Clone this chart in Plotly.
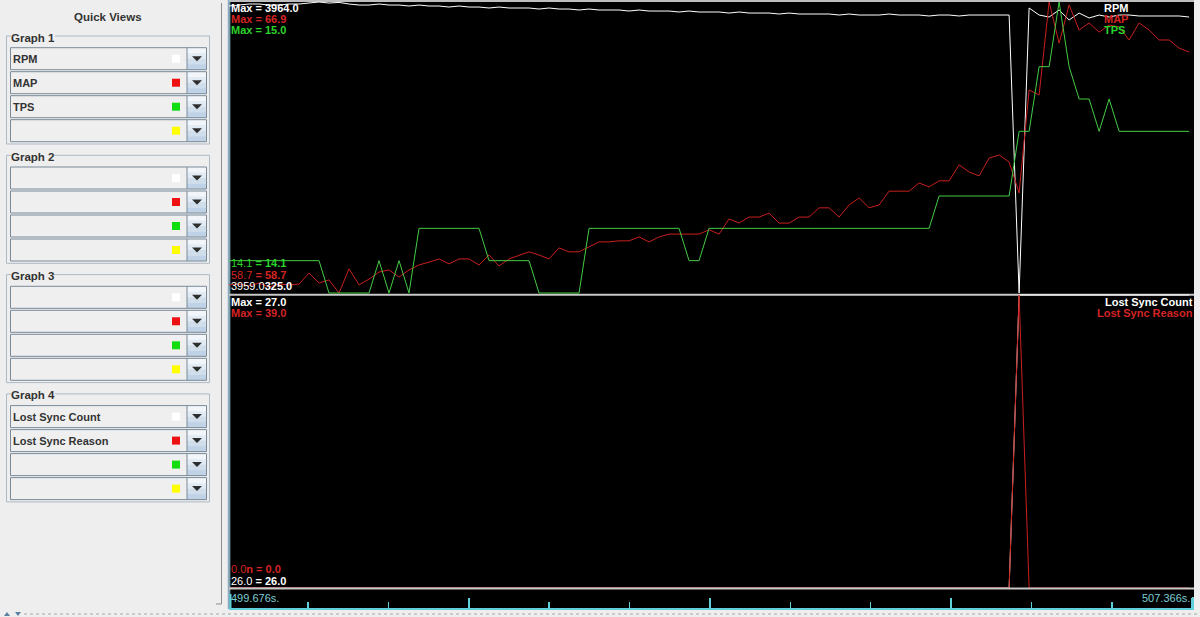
import plotly.graph_objects as go

W, H = 1200, 617
FONT = "Liberation Sans, Arial, sans-serif"

# ------------------------------------------------------------------ data
T_START = 499.676
T_END = 507.366
SAMPLE_PERIOD = 0.0797
CURSOR_INDEX = 11

rpm = [3914, 3926, 3939, 3939, 3926, 3926, 3939, 3939, 3951, 3964,
       3951, 3959, 3939, 3926, 3926, 3939, 3926, 3926, 3914, 3926,
       3914, 3914, 3901, 3914, 3901, 3901, 3889, 3901, 3889, 3889,
       3889, 3876, 3889, 3876, 3876, 3864, 3876, 3864, 3864, 3864,
       3851, 3864, 3851, 3851, 3851, 3839, 3851, 3839, 3839, 3839,
       3826, 3839, 3826, 3826, 3826, 3814, 3826, 3814, 3814, 3814,
       3814, 3801, 3814, 3801, 3801, 3801, 3814, 3801, 3801, 3801,
       3789, 3801, 3801, 3789, 3801, 3801, 3801, 3801, 3801, 325,
       3889, 3801, 3776, 3864, 3739, 3826, 3764, 3801, 3776, 3801,
       3801, 3789, 3789, 3789, 3789, 3789, 3776]

map_kpa = [58.93, 58.95, 58.90, 58.98, 58.87, 58.95, 58.93, 58.95, 59.26, 58.98,
           59.07, 58.70, 59.38, 58.93, 59.09, 59.29, 59.35, 59.15, 59.35, 59.49,
           59.57, 59.66, 59.52, 59.66, 59.66, 59.49, 59.77, 59.46, 59.66, 59.77,
           59.86, 59.77, 59.66, 59.97, 59.86, 59.86, 60.00, 60.14, 60.14, 60.17,
           60.17, 60.28, 60.14, 60.28, 60.36, 60.36, 60.36, 60.36, 60.48, 60.36,
           60.79, 60.67, 60.84, 60.84, 60.95, 60.67, 60.67, 60.84, 60.84, 61.10,
           61.10, 60.84, 61.18, 61.38, 61.10, 61.18, 61.57, 61.57, 61.57, 61.80,
           61.69, 61.86, 61.86, 62.31, 62.11, 62.00, 62.50, 62.59, 62.39, 61.52,
           64.42, 64.28, 66.90, 65.74, 66.82, 66.11, 66.31, 66.05, 66.25, 66.20,
           65.83, 66.31, 66.11, 65.83, 65.83, 65.60, 65.49]

tps = [14.2, 14.2, 14.2, 14.2, 14.2, 14.2, 14.2, 14.2, 14.2, 14.2,
       14.1, 14.1, 14.1, 14.1, 14.1, 14.2, 14.1, 14.2, 14.1, 14.3,
       14.3, 14.3, 14.3, 14.3, 14.3, 14.3, 14.2, 14.2, 14.2, 14.2,
       14.2, 14.1, 14.1, 14.1, 14.1, 14.1, 14.3, 14.3, 14.3, 14.3,
       14.3, 14.3, 14.3, 14.3, 14.3, 14.3, 14.2, 14.2, 14.3, 14.3,
       14.3, 14.3, 14.3, 14.3, 14.3, 14.3, 14.3, 14.3, 14.3, 14.3,
       14.3, 14.3, 14.3, 14.3, 14.3, 14.3, 14.3, 14.3, 14.3, 14.3,
       14.3, 14.4, 14.4, 14.4, 14.4, 14.4, 14.4, 14.4, 14.4, 14.6,
       14.6, 14.8, 14.8, 15.0, 14.8, 14.7, 14.7, 14.6, 14.7, 14.6,
       14.6, 14.6, 14.6, 14.6, 14.6, 14.6, 14.6]

lost_sync_count = [26, 26, 26, 26, 26, 26, 26, 26, 26, 26,
                   26, 26, 26, 26, 26, 26, 26, 26, 26, 26,
                   26, 26, 26, 26, 26, 26, 26, 26, 26, 26,
                   26, 26, 26, 26, 26, 26, 26, 26, 26, 26,
                   26, 26, 26, 26, 26, 26, 26, 26, 26, 26,
                   26, 26, 26, 26, 26, 26, 26, 26, 26, 26,
                   26, 26, 26, 26, 26, 26, 26, 26, 26, 26,
                   26, 26, 26, 26, 26, 26, 26, 26, 26, 27,
                   27, 27, 27, 27, 27, 27, 27, 27, 27, 27,
                   27, 27, 27, 27, 27, 27, 27]

lost_sync_reason = [0, 0, 0, 0, 0, 0, 0, 0, 0, 0,
                    0, 0, 0, 0, 0, 0, 0, 0, 0, 0,
                    0, 0, 0, 0, 0, 0, 0, 0, 0, 0,
                    0, 0, 0, 0, 0, 0, 0, 0, 0, 0,
                    0, 0, 0, 0, 0, 0, 0, 0, 0, 0,
                    0, 0, 0, 0, 0, 0, 0, 0, 0, 0,
                    0, 0, 0, 0, 0, 0, 0, 0, 0, 0,
                    0, 0, 0, 0, 0, 0, 0, 0, 0, 39,
                    0, 0, 0, 0, 0, 0, 0, 0, 0, 0,
                    0, 0, 0, 0, 0, 0, 0]

time_s = [round(T_START + i * SAMPLE_PERIOD, 4) for i in range(len(rpm))]

graph_titles = ["Graph 1", "Graph 2", "Graph 3", "Graph 4"]
graph_fields = [["RPM", "MAP", "TPS", ""],
                ["", "", "", ""],
                ["", "", "", ""],
                ["Lost Sync Count", "Lost Sync Reason", "", ""]]
slot_colors = ["#FFFFFF", "#EE1111", "#11DD11", "#FFFF00"]

WHITE, RED, GREEN = "#FFFFFF", "#D42424", "#2BD42B"
LINE_RED, LINE_GREEN = "#C8201E", "#44CC44"
CYAN = "#5FD0D8"
TIME_TEXT = "#7CCFD6"

# time-axis tick spacing (s)
TICK_MINOR = 0.6405
TICK_MAJOR = 1.9215
TICK0 = 500.306

# ------------------------------------------------------------------ helpers
def X(p):
    return p / W


def Y(p):
    return 1 - p / H


shapes = []
annotations = []


def rect(x0, y0, x1, y1, fill=None, line=None, lw=1, layer="above"):
    shapes.append(dict(type="rect", xref="paper", yref="paper",
                       x0=X(x0), x1=X(x1), y0=Y(y1), y1=Y(y0),
                       fillcolor=fill or "rgba(0,0,0,0)",
                       line=dict(color=line or "rgba(0,0,0,0)", width=lw if line else 0),
                       layer=layer))


def seg(x0, y0, x1, y1, color, lw=1, dash="solid", layer="above"):
    shapes.append(dict(type="line", xref="paper", yref="paper",
                       x0=X(x0), x1=X(x1), y0=Y(y0), y1=Y(y1),
                       line=dict(color=color, width=lw, dash=dash), layer=layer))


def poly(points, fill, layer="above"):
    d = "M " + " L ".join(f"{X(a):.5f},{Y(b):.5f}" for a, b in points) + " Z"
    shapes.append(dict(type="path", xref="paper", yref="paper", path=d,
                       fillcolor=fill, line=dict(width=0), layer=layer))


def text(t, x, y, color, size=11, bold=False, xanchor="left", bg=None):
    annotations.append(dict(text=f"<b>{t}</b>" if bold else t,
                            x=X(x), y=Y(y), xref="paper", yref="paper",
                            xanchor=xanchor, yanchor="middle", showarrow=False,
                            font=dict(family=FONT, size=size, color=color),
                            bgcolor=bg or "rgba(0,0,0,0)", borderpad=0, borderwidth=0))


# ------------------------------------------------------------------ left panel
text("Quick Views", 108, 17, "#333333", size=11.5, bold=True, xanchor="center")
for g, title in enumerate(graph_titles):
    top = 36 + 119.3 * g
    rect(6.5, top, 209.5, top + 108, line="#AEB9C5")
    text(title, 11, top + 1.5, "#333333", size=11.5, bold=True, bg="#EEEEEE")
    for i, field in enumerate(graph_fields[g]):
        cy0 = top + 11.7 + 24 * i
        cy1 = cy0 + 22
        rect(10.5, cy0, 206.5, cy1, fill="#EFEFEF")
        bands = ["#F2F6FA", "#E2EBF4", "#D0DEEC", "#BFD2E6"]
        bh = (cy1 - cy0) / len(bands)
        for b, col in enumerate(bands):
            rect(187, cy0 + b * bh, 206.5, cy0 + (b + 1) * bh, fill=col)
        rect(10.5, cy0, 206.5, cy1, line="#7A8A99")
        seg(187, cy0, 187, cy1, "#7A8A99")
        cc = (cy0 + cy1) / 2
        poly([(192, cc - 2.5), (202, cc - 2.5), (197, cc + 2.5)], "#2E2E2E")
        rect(172, cc - 4, 180, cc + 4, fill=slot_colors[i])
        if field:
            text(field, 13, cc, "#333333", bold=True)

seg(221.5, 3, 221.5, 604, "#8C8C8C")
seg(216, 604, 221.5, 604, "#8C8C8C")
seg(24, 614, 1200, 614, "#A8A8A8", dash="dot")
poly([(4, 616), (10, 616), (7, 612)], "#5B7FA3")
poly([(15, 612), (21, 612), (18, 616)], "#5B7FA3")

# ------------------------------------------------------------------ chart frame
rect(229, 0, 1194, 609, fill="#000000", layer="below")
seg(229, 1, 1194, 1, "#BEBEBE", lw=2, layer="below")
seg(228.5, 0, 228.5, 609, "#8FA9C2", lw=1.5, layer="below")
seg(229.8, 0, 229.8, 609, "#9ED6DC", lw=1, layer="below")
seg(229, 294.8, 1194, 294.8, "#C8C8C8", lw=2, layer="below")   # under traces
seg(229, 588.4, 1194, 588.4, "#C8C8C8", lw=2, layer="above")   # over traces
seg(230.5, 594, 230.5, 609, CYAN, lw=2)
seg(1193, 597, 1193, 609, CYAN, lw=2)


def dom(p_top, p_bot):
    return [Y(p_bot), Y(p_top)]


def padded(vals, px_span):
    lo, hi = min(vals), max(vals)
    pad = (hi - lo) / px_span
    return [lo - pad, hi + pad]


x_dom = [X(229), X(1194)]
top_dom = dom(1, 294)
bot_dom = dom(294, 589)

fig = go.Figure()
fig.add_trace(go.Scatter(x=time_s, y=rpm, xaxis="x", yaxis="y", mode="lines",
                         line=dict(color=WHITE, width=1)))
fig.add_trace(go.Scatter(x=time_s, y=map_kpa, xaxis="x", yaxis="y2", mode="lines",
                         line=dict(color=LINE_RED, width=1)))
fig.add_trace(go.Scatter(x=time_s, y=tps, xaxis="x", yaxis="y3", mode="lines",
                         line=dict(color=LINE_GREEN, width=1)))
fig.add_trace(go.Scatter(x=time_s, y=lost_sync_count, xaxis="x2", yaxis="y4", mode="lines",
                         line=dict(color=WHITE, width=1)))
fig.add_trace(go.Scatter(x=time_s, y=lost_sync_reason, xaxis="x2", yaxis="y5", mode="lines",
                         line=dict(color=LINE_RED, width=1)))

hidden = dict(visible=False, showgrid=False, zeroline=False, fixedrange=True)


# ------------------------------------------------------------------ chart labels
def fmt(v):
    return f"{v:.1f}"


top_series = [("RPM", rpm, WHITE), ("MAP", map_kpa, RED), ("TPS", tps, GREEN)]
for i, (name, vals, col) in enumerate(top_series):
    text(f"Max = {fmt(max(vals))}", 231, 7.5 + 11.3 * i, col, bold=True)
    text(name, 1104, 7.5 + 11.3 * i, col, bold=True)

# cursor value (regular) drawn over the bold "Min = x" label, as in the viewer
tps_min_lbl = f"{fmt(tps[CURSOR_INDEX])} <b>= {fmt(min(tps))}</b>"
map_min_lbl = f"{fmt(map_kpa[CURSOR_INDEX])} <b>= {fmt(min(map_kpa))}</b>"
rpm_min_lbl = f"{fmt(rpm[CURSOR_INDEX])}<b>{fmt(min(rpm))}</b>"
text(tps_min_lbl, 231, 263, GREEN)
text(map_min_lbl, 231, 274.6, RED)
text(rpm_min_lbl, 231, 286.2, WHITE)

bot_series = [("Lost Sync Count", lost_sync_count, WHITE),
              ("Lost Sync Reason", lost_sync_reason, RED)]
for i, (name, vals, col) in enumerate(bot_series):
    text(f"Max = {fmt(max(vals))}", 231, 302 + 11.3 * i, col, bold=True)
    text(name, 1193, 302 + 11.3 * i, col, bold=True, xanchor="right")

reason_min_lbl = f"{fmt(lost_sync_reason[CURSOR_INDEX])}<b>n = {fmt(min(lost_sync_reason))}</b>"
count_min_lbl = f"{fmt(lost_sync_count[CURSOR_INDEX])} <b>= {fmt(min(lost_sync_count))}</b>"
text(reason_min_lbl, 231, 568.5, RED)
text(count_min_lbl, 231, 580.5, WHITE)

text(f"{T_START:.3f}s.", 231, 598, TIME_TEXT)
text(f"{T_END:.3f}s.", 1190, 598, TIME_TEXT, xanchor="right")

fig.update_layout(
    width=W, height=H,
    margin=dict(l=0, r=0, t=0, b=0, pad=0),
    paper_bgcolor="#EEEEEE",
    plot_bgcolor="rgba(0,0,0,0)",
    showlegend=False,
    hovermode=False,
    xaxis=dict(domain=x_dom, range=[T_START, T_END], anchor="y", **hidden),
    xaxis2=dict(domain=x_dom, range=[T_START, T_END], anchor="free", position=Y(609),
                side="bottom",
                showgrid=False, zeroline=False, showticklabels=False,
                showline=True, linecolor=CYAN, linewidth=2,
                ticks="inside", ticklen=10, tickwidth=2, tickcolor=CYAN,
                tickmode="linear", tick0=TICK0 + 2 * TICK_MINOR, dtick=TICK_MAJOR,
                minor=dict(ticks="inside", ticklen=6, tickwidth=1.5, tickcolor=CYAN,
                           tickmode="linear", tick0=TICK0, dtick=TICK_MINOR,
                           showgrid=False),
                fixedrange=True),
    yaxis=dict(domain=top_dom, range=padded(rpm, 291), anchor="x", **hidden),
    yaxis2=dict(domain=top_dom, range=padded(map_kpa, 291), overlaying="y", anchor="x", **hidden),
    yaxis3=dict(domain=top_dom, range=padded(tps, 291), overlaying="y", anchor="x", **hidden),
    yaxis4=dict(domain=bot_dom, range=padded(lost_sync_count, 293), anchor="x2", **hidden),
    yaxis5=dict(domain=bot_dom, range=padded(lost_sync_reason, 293), overlaying="y4",
                anchor="x2", **hidden),
    shapes=shapes,
    annotations=annotations,
)

fig.write_html("out.html", config={"displayModeBar": False, "staticPlot": True},
               post_script="document.body.style.margin='0';document.body.style.overflow='hidden';")
